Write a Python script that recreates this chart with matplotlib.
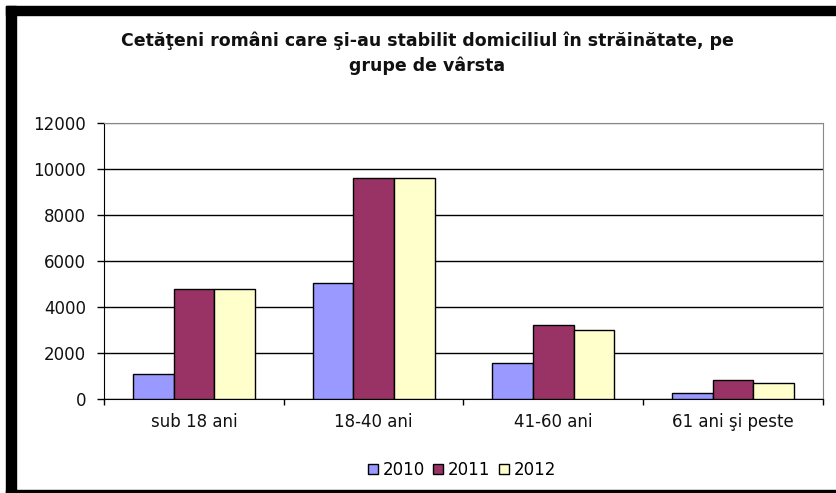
import matplotlib.pyplot as plt
import matplotlib.patches as mpatches
import numpy as np

plt.rcParams['font.family'] = ['DejaVu Sans']

categorii = ["sub 18 ani", "18-40 ani", "41-60 ani", "61 ani şi peste"]
ani = ["2010", "2011", "2012"]
v2010 = [1080, 5040, 1550, 270]
v2011 = [4780, 9600, 3220, 820]
v2012 = [4780, 9600, 2990, 680]
culori = ["#9999FF", "#993366", "#FFFFCC"]
yticks = [0, 2000, 4000, 6000, 8000, 10000, 12000]

W, H = 837, 493
fig = plt.figure(figsize=(W / 100, H / 100), dpi=100)
fig.patch.set_facecolor("white")

# rama neagra (sus, stanga, jos)
fig.add_artist(mpatches.Rectangle((6 / W, 1 - 15 / H), 1 - 6 / W, 9 / H, transform=fig.transFigure, color="black"))
fig.add_artist(mpatches.Rectangle((6 / W, 0), 10 / W, 1 - 6 / H, transform=fig.transFigure, color="black"))
fig.add_artist(mpatches.Rectangle((6 / W, 0), 1 - 6 / W, 3 / H, transform=fig.transFigure, color="black"))

ax = fig.add_axes([104 / W, 1 - 399 / H, (823 - 104) / W, (399 - 123) / H])

x = np.arange(len(categorii))
w = 0.226
serii = [v2010, v2011, v2012]
for i in range(3):
    ax.bar(x + (i - 1) * w, serii[i], w, color=culori[i], edgecolor="black", linewidth=1, label=ani[i], zorder=3)

ax.set_xlim(-0.5, len(categorii) - 0.5)
ax.set_ylim(0, 12000)
ax.set_yticks(yticks)
ax.set_yticklabels([str(t) for t in yticks], fontsize=12, color="#111111")
ax.set_xticks(x)
ax.set_xticklabels(categorii, fontsize=12, color="#111111")
ax.tick_params(axis="x", length=0, pad=10)
ax.tick_params(axis="y", length=5, width=1, direction="out", pad=8)
ax.set_xticks(np.arange(len(categorii) + 1) - 0.5, minor=True)
ax.tick_params(axis="x", which="minor", length=4, width=1, direction="out")

ax.yaxis.grid(True, color="black", linewidth=1)
for g in ax.get_ygridlines()[-1:]:
    g.set_color("#888888")
ax.set_axisbelow(True)
ax.spines["left"].set_color("black")
ax.spines["bottom"].set_color("black")
ax.spines["top"].set_color("#888888")
ax.spines["right"].set_color("#888888")

fig.text(427 / W, 1 - 41 / H, "Cetăţeni români care şi-au stabilit domiciliul în străinătate, pe",
         ha="center", va="center", fontsize=12.5, fontweight="bold", color="#111111")
fig.text(427 / W, 1 - 66 / H, "grupe de vârsta",
         ha="center", va="center", fontsize=12.5, fontweight="bold", color="#111111")

fig.legend(loc="center", bbox_to_anchor=(462 / W, 1 - 470 / H), ncol=3, frameon=False,
           fontsize=12, handlelength=0.6, handleheight=0.6, handletextpad=0.3, columnspacing=0.5)

plt.savefig("out.png", dpi=100)
